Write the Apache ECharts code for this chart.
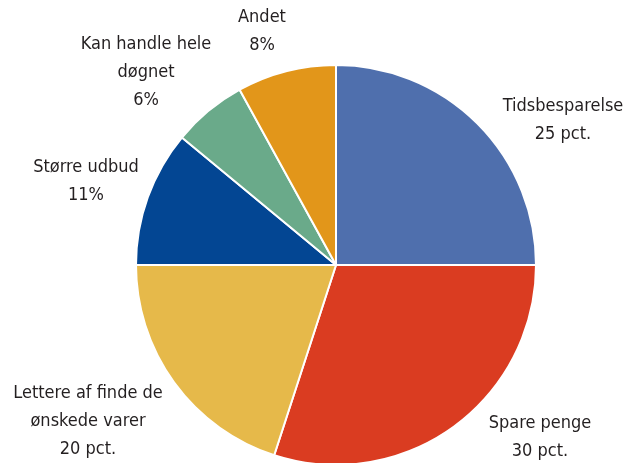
<!DOCTYPE html>
<html>
<head>
<meta charset="utf-8">
<script src="https://cdn.jsdelivr.net/npm/echarts@6/dist/echarts.min.js"></script>
<style>
  html, body { margin: 0; padding: 0; background: #fff; }
  #main { width: 623px; height: 463px; }
</style>
</head>
<body>
<div id="main"></div>
<script>
// data
var categories = ['Tidsbesparelse', 'Spare penge', 'Lettere af finde de\nønskede varer', 'Større udbud', 'Kan handle hele\ndøgnet', 'Andet'];
var values = [25, 30, 20, 11, 6, 8];
var units = [' pct.', ' pct.', ' pct.', '%', '%', '%'];

var colors = ['#4f6fad', '#da3c21', '#e6b94a', '#034693', '#6aaa8a', '#e2961a'];
// label centres (px) in the picture
var labelPos = [[563, 120], [540, 437], [88, 421], [86, 181], [146, 72], [262, 31]];

var myChart = echarts.init(document.getElementById('main'));

var pieData = categories.map(function (c, i) {
    return { name: c, value: values[i], itemStyle: { color: colors[i] } };
});

var option = {
    animation: false,
    series: [
        {
            type: 'pie',
            center: [336, 265],
            radius: 200,
            startAngle: 90,
            clockwise: true,
            data: pieData,
            itemStyle: {
                borderColor: '#ffffff',
                borderWidth: 2
            },
            label: {
                show: true,
                position: 'outside',
                formatter: function (p) {
                    return p.name + '\n' + p.value + units[p.dataIndex];
                },
                fontFamily: "'Liberation Sans Narrow', 'DejaVu Sans Condensed', sans-serif",
                fontSize: 18,
                lineHeight: 28,
                color: '#231f20',
                align: 'center',
                overflow: 'none'
            },
            labelLine: { show: false },
            labelLayout: function (params) {
                var p = labelPos[params.dataIndex];
                return { x: p[0], y: p[1], align: 'center', verticalAlign: 'middle' };
            }
        }
    ]
};

myChart.setOption(option);
</script>
</body>
</html>
